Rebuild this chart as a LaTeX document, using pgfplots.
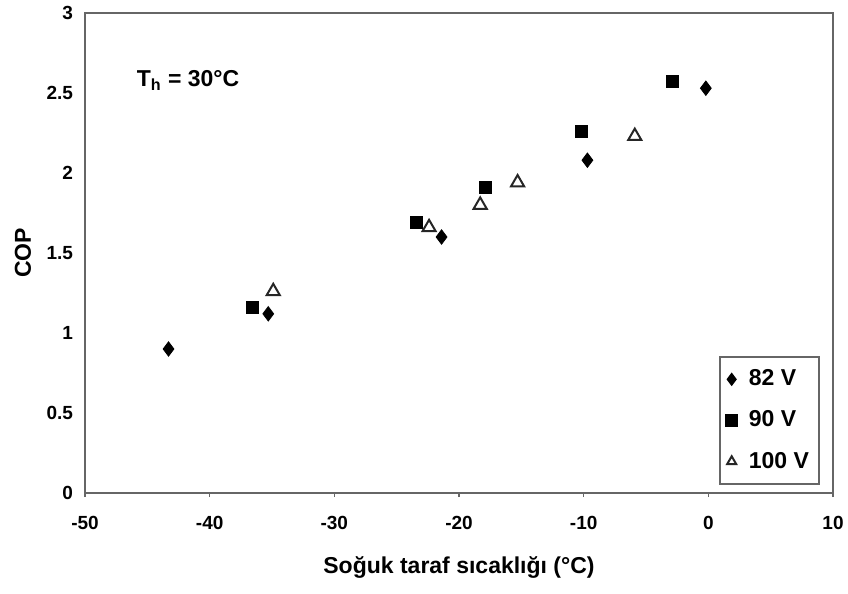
\documentclass[border=0pt]{standalone}
\usepackage{fontspec}
\setmainfont{Liberation Sans}
\usepackage{pgfplots}
\pgfplotsset{compat=1.18}
\begin{document}
\begin{tikzpicture}
\begin{axis}[
  name=ax,
  scale only axis,
  width=374pt, height=240pt,
  xmin=-50, xmax=10, ymin=0, ymax=3,
  xtick={-50,-40,...,10},
  ytick={0,0.5,...,3},
  axis line style={draw=black!60, line width=1pt},
  tick style={draw=black!60, line width=0.8pt},
  xtick pos=bottom, ytick pos=left,
  xtick align=outside,
  major tick length=2pt,
  ytick style={draw=none},
  /pgf/number format/assume math mode=true,
  tick label style={font=\bfseries\fontsize{9.5}{11}\selectfont},
  xticklabel style={yshift=-6pt},
  yticklabel style={xshift=-2.5pt},
  xlabel={Soğuk taraf sıcaklığı (°C)},
  ylabel={COP},
  label style={font=\bfseries\fontsize{11.5}{13}\selectfont},
  xlabel style={at={(axis description cs:0.5,0)}, anchor=center, yshift=-37pt},
  ylabel style={at={(axis description cs:0,0.5)}, anchor=center, yshift=31pt},
  legend style={at={(rel axis cs:1,0)}, anchor=south east, xshift=-6.5pt, yshift=4pt,
    draw=black!60, line width=1pt, font=\bfseries\fontsize{11.5}{13}\selectfont,
    row sep=7pt, inner xsep=3pt, inner ysep=4.5pt},
  legend cell align=left,
  legend image code/.code={\draw[#1, mark size=2.6pt] plot coordinates {(0.19cm,0cm)};},
]
\addplot[only marks, mark=diamond*, mark size=3.6pt, black] coordinates {
  (-43.3,0.90) (-35.3,1.12) (-21.4,1.60) (-9.7,2.08) (-0.2,2.53)};
\addlegendentry{\hspace{4pt}82 V}
\addplot[only marks, mark=square*, mark size=3pt, black] coordinates {
  (-36.6,1.16) (-23.4,1.69) (-17.9,1.91) (-10.2,2.26) (-2.9,2.57)};
\addlegendentry{\hspace{4pt}90 V}
\addplot[only marks, mark=triangle*, mark size=3.8pt, black!85, line width=1pt, mark options={fill=white}] coordinates {
  (-34.9,1.26) (-22.4,1.66) (-18.3,1.80) (-15.3,1.94) (-5.9,2.23)};
\addlegendentry{\hspace{4pt}100 V}
\node[font=\bfseries\fontsize{11.5}{13}\selectfont] at (axis description cs:0.1377,0.86) {T\textsubscript{h} = 30°C};
\end{axis}
\pgfresetboundingbox
\path ([xshift=-42.5pt,yshift=-50pt]ax.south west) rectangle ([xshift=7.5pt,yshift=6.5pt]ax.north east);
\end{tikzpicture}
\end{document}
